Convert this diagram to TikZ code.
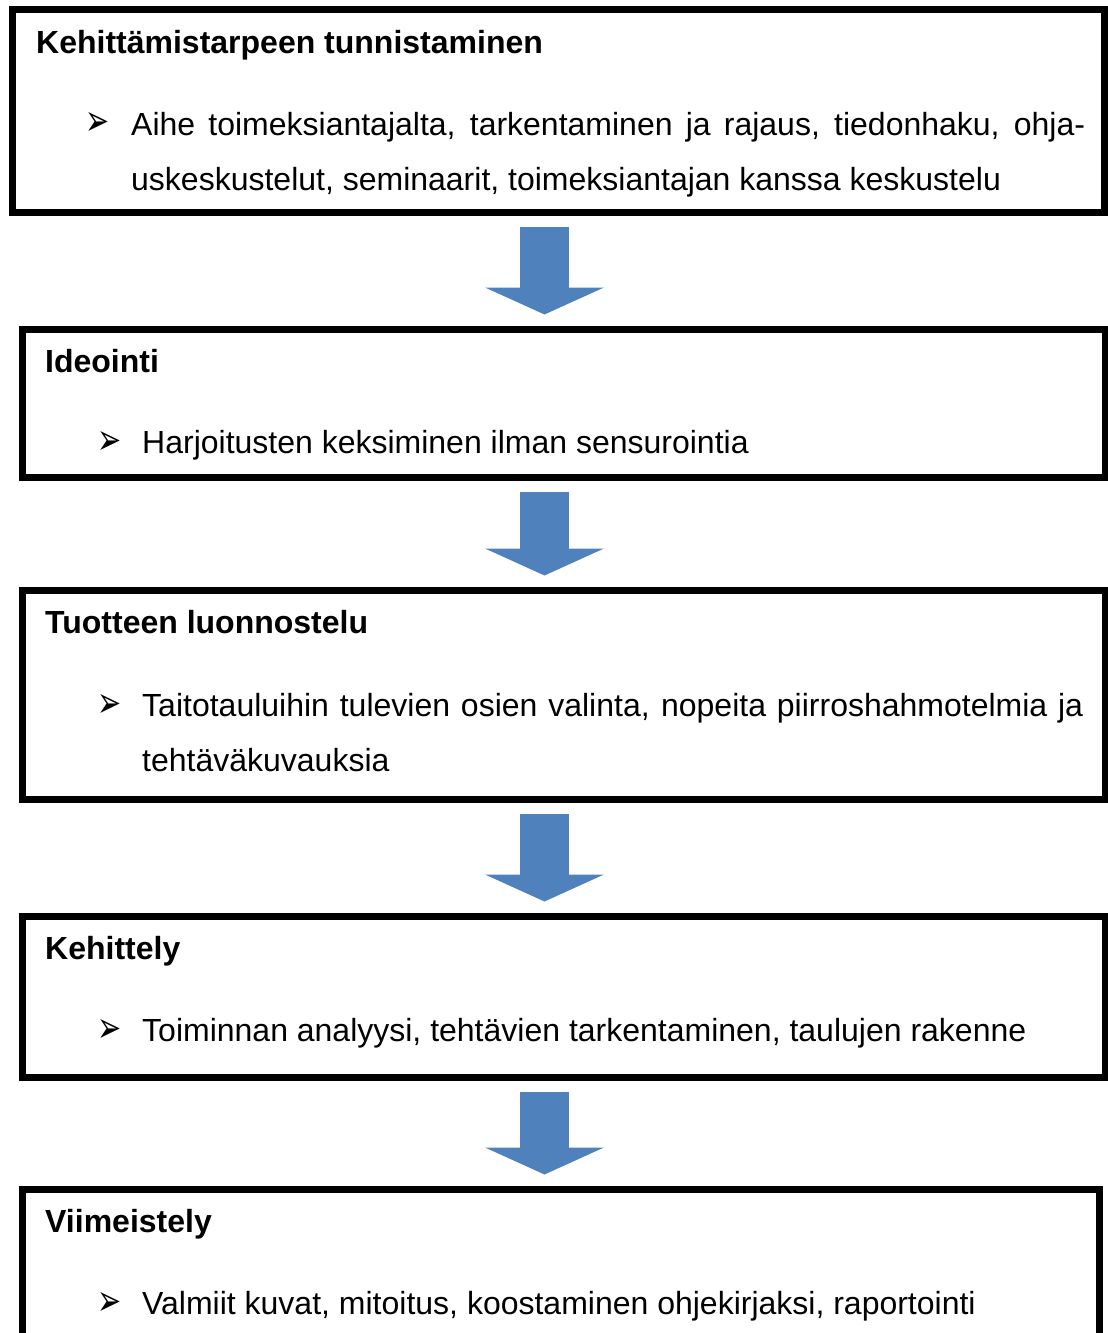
\documentclass[tikz,border=0pt]{standalone}
\usepackage{fontspec}
\setmainfont{Liberation Sans}
\newfontfamily\dingfont{DejaVu Sans}
\usepackage{xcolor}
\usepackage{graphicx}
\usetikzlibrary{arrows.meta,positioning}
\definecolor{arrowblue}{HTML}{4F81BD}
\hyphenpenalty=10000
\newcommand{\bul}{\scalebox{1.2}[1.8]{\dingfont\fontsize{24}{24}\selectfont ➢}}

\begin{document}
\begin{tikzpicture}[
  x=1pt, y=-1pt,                            % page pixels, y downwards
  font=\fontsize{32}{55}\selectfont,
  stagebox/.style = {rectangle,
                     draw,
                     line width=7pt,
                     inner sep=0pt},
  head/.style     = {anchor=base west,
                     inner sep=0pt,
                     font=\fontsize{32}{55}\selectfont\bfseries},
  bullet/.style   = {anchor=south west, inner sep=0pt},
  body/.style     = {anchor=base west, inner sep=0pt},
  flow/.style     = {draw=arrowblue,
                     line width=49pt,
                     shorten <=11pt, shorten >=11pt,
                     -{Triangle[length=27pt,width=118pt]}}
]
\useasboundingbox (0,0) rectangle (1108,1333);

\coordinate (ax) at (544.5,0);

\node[stagebox, minimum width=1092pt, minimum height=203pt, anchor=north west] (b1) at (8.5,6) {};
\node[stagebox, minimum width=1083pt, minimum height=148.5pt,
      below=109.5pt of b1.south west, anchor=north west, xshift=10pt] (b2) {};
\node[stagebox, minimum width=1083pt, minimum height=209pt,
      below=105.5pt of b2.south west, anchor=north west] (b3) {};
\node[stagebox, minimum width=1083pt, minimum height=161.5pt,
      below=110pt of b3.south west, anchor=north west] (b4) {};
\node[stagebox, minimum width=1077pt, minimum height=180pt,
      below=104.5pt of b4.south west, anchor=north west] (b5) {};

% headings
\node[head] (h1) at ([shift={(27.5,47)}]b1.north west) {Kehittämistarpeen tunnistaminen};
\node[head] (h2) at ([shift={(26.5,47)}]b2.north west) {Ideointi};
\node[head] (h3) at ([shift={(26.5,47)}]b3.north west) {Tuotteen luonnostelu};
\node[head] (h4) at ([shift={(26.5,47)}]b4.north west) {Kehittely};
\node[head] (h5) at ([shift={(26.5,47)}]b5.north west) {Viimeistely};

% bullet lines
\node[bullet] (p1) at ([shift={(76.5,130)}]b1.north west) {\bul};
\node[body, text width=954pt, align=justify] (t1) at ([shift={(122.5,129)}]b1.north west)
  {Aihe toimeksiantajalta, tarkentaminen ja rajaus, tiedonhaku, ohja-\linebreak
   uskeskustelut, seminaarit, toimeksiantajan kanssa keskustelu};
\node[bullet] (p2) at ([shift={(78.5,129)}]b2.north west) {\bul};
\node[body] (t2) at ([shift={(123.5,128)}]b2.north west)
  {Harjoitusten keksiminen ilman sensurointia};
\node[bullet] (p3) at ([shift={(78.5,131)}]b3.north west) {\bul};
\node[body, text width=941pt, align=justify] (t3) at ([shift={(123.5,130)}]b3.north west)
  {Taitotauluihin tulevien osien valinta, nopeita piirroshahmotelmia ja\linebreak
   tehtäväkuvauksia};
\node[bullet] (p4) at ([shift={(78.5,130)}]b4.north west) {\bul};
\node[body] (t4) at ([shift={(123.5,129)}]b4.north west)
  {Toiminnan analyysi, tehtävien tarkentaminen, taulujen rakenne};
\node[bullet] (p5) at ([shift={(78.5,130)}]b5.north west) {\bul};
\node[body] (t5) at ([shift={(123.5,129)}]b5.north west)
  {Valmiit kuvat, mitoitus, koostaminen ohjekirjaksi, raportointi};

% block arrows between stages
\draw[flow] (b1.south -| ax) -- (b2.north -| ax);
\draw[flow] (b2.south -| ax) -- (b3.north -| ax);
\draw[flow] (b3.south -| ax) -- (b4.north -| ax);
\draw[flow] (b4.south -| ax) -- (b5.north -| ax);

\end{tikzpicture}
\end{document}
